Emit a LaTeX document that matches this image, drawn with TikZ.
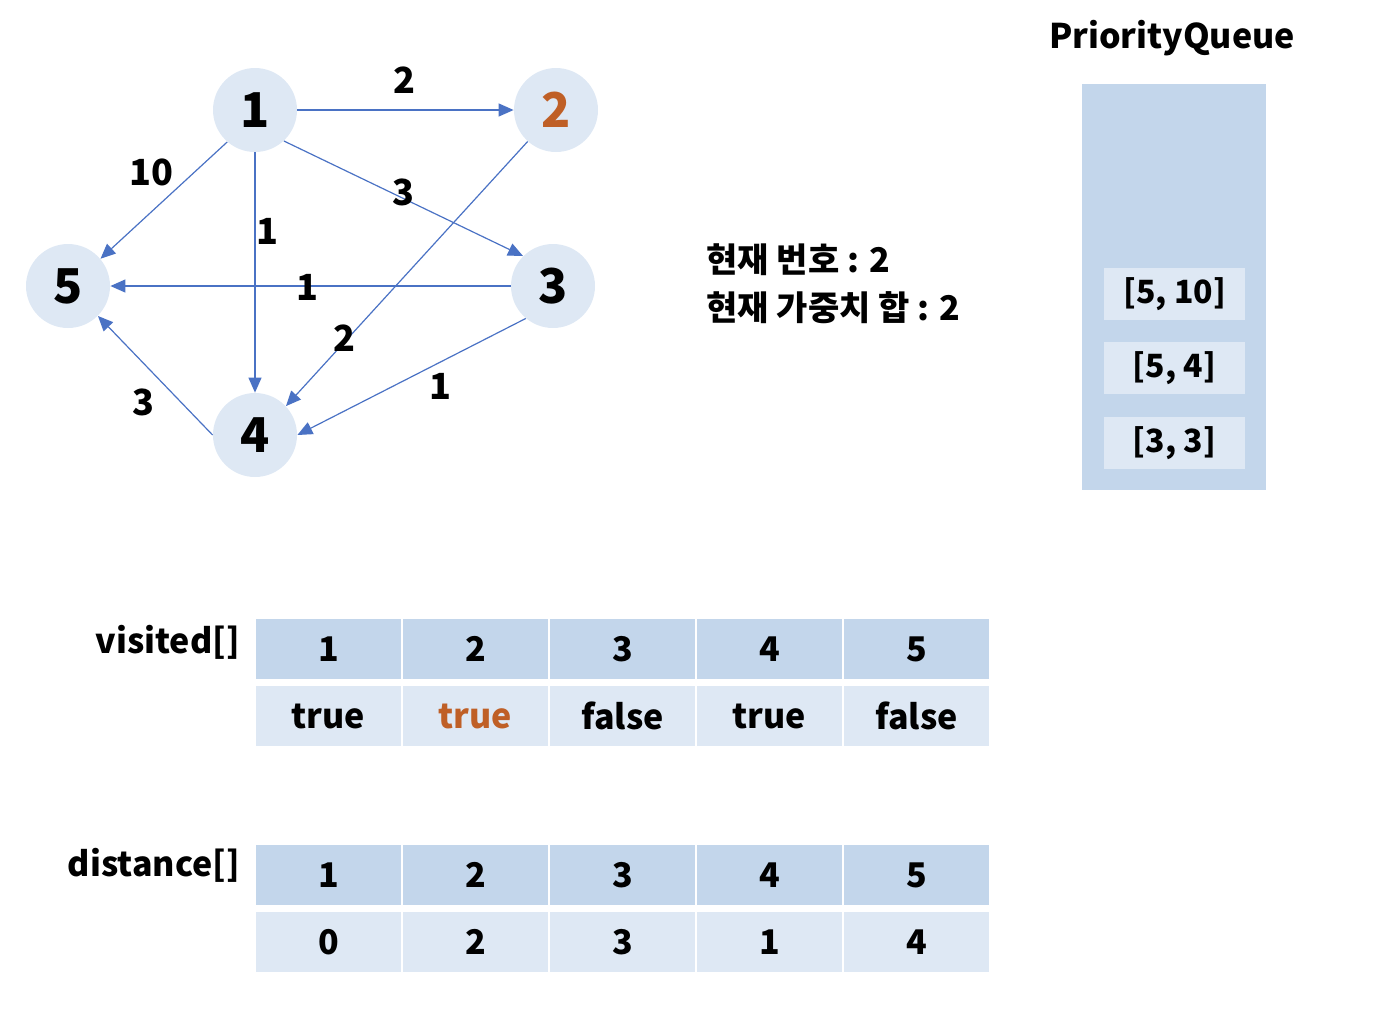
\documentclass[tikz,border=0pt]{standalone}
\usepackage{fontspec}
\setmainfont{Noto Sans CJK KR}
\usepackage{tikz}
\usetikzlibrary{arrows.meta, positioning}
\definecolor{nodefill}{HTML}{DEE8F4}
\definecolor{headfill}{HTML}{C3D6EB}
\definecolor{edgeblue}{HTML}{4A72C4}
\definecolor{curorange}{HTML}{BF5F26}
\tikzset{
  vert/.style={circle,fill=nodefill,minimum size=42pt,inner sep=0pt,
    font=\fontsize{24}{28}\selectfont\bfseries},
  wlab/.style={inner sep=0pt,font=\fontsize{18}{20}\selectfont\bfseries},
  hcell/.style={rectangle,fill=headfill,minimum width=72.5pt,minimum height=30pt,
    inner sep=0pt,font=\fontsize{17}{20}\selectfont\bfseries},
  bcell/.style={hcell,fill=nodefill},
  qitem/.style={rectangle,fill=nodefill,minimum width=70.5pt,minimum height=26pt,
    inner sep=0pt,font=\fontsize{16}{19}\selectfont\bfseries},
  lab/.style={inner sep=0pt,font=\fontsize{17}{20}\selectfont\bfseries},
  ar/.style={-{Triangle[length=7.5pt,width=6.5pt]},line width=0.6pt,draw=edgeblue}
}

\begin{document}
\begin{tikzpicture}[x=0.5pt,y=-0.5pt]
\useasboundingbox (0,0) rectangle (1386,1018);
% graph
\node[vert] (n1) at (255,110) {1};
\node[vert,text=curorange] (n2) at (556,110) {2};
\node[vert] (n3) at (553,286) {3};
\node[vert] (n4) at (255,435) {4};
\node[vert] (n5) at (68,286) {5};
\draw[ar] (n1.east)--(n2.west);
\draw[ar] (n1.229)--(n5.40);
\draw[ar] (n1.south)--(n4.north);
\draw[ar] (n1.313)--(n3.135);
\draw[ar] (n2.228)--(n4.43);
\draw[ar] (n3.west)--(n5.east);
\draw[ar] (n3.230)--(n4.east);
\draw[ar] (n4.west)--(n5.315);
\node[wlab] (w12) at (404,80) {2};
\node[wlab] (w15) at (151,172) {10};
\node[wlab] (w13) at (403,192) {3};
\node[wlab] (w14) at (267,231) {1};
\node[wlab] (w35) at (307,287) {1};
\node[wlab] (w24) at (344,338) {2};
\node[wlab] (w45) at (143,402) {3};
\node[wlab] (w34) at (440,386) {1};
% current state
\node[lab,anchor=west] (cur) at (706,260) {현재 번호 : 2};
\node[lab,anchor=west] (sum) at (706,308) {현재 가중치 합 : 2};
% priority queue
\node[inner sep=0pt,font=\fontsize{17}{20}\selectfont\bfseries] (pqt) at (1172,38) {PriorityQueue};
\node[rectangle,fill=headfill,minimum width=92pt,minimum height=203pt,inner sep=0pt] (pq) at (1174,287) {};
\node[qitem] (q1) at (1174.5,294) {[5, 10]};
\node[qitem] (q2) at (1174.5,368) {[5, 4]};
\node[qitem] (q3) at (1174.5,443) {[3, 3]};
% arrays
\node[lab,anchor=east] (vis) at (240,642) {visited[]};
\node[lab,anchor=east] (dist) at (240,865) {distance[]};
\foreach \i/\v/\d in {1/true/0,2/true/2,3/false/3,4/true/1,5/false/4}{
  \node[hcell] (vh\i) at ({328.5+147*(\i-1)},649) {\i};
  \node[bcell] (vb\i) at ({328.5+147*(\i-1)},716) {\v};
  \node[hcell] (dh\i) at ({328.5+147*(\i-1)},875) {\i};
  \node[bcell] (db\i) at ({328.5+147*(\i-1)},942) {\d};
}
\node[bcell,text=curorange] at (vb2) {true};
\end{tikzpicture}
\end{document}
